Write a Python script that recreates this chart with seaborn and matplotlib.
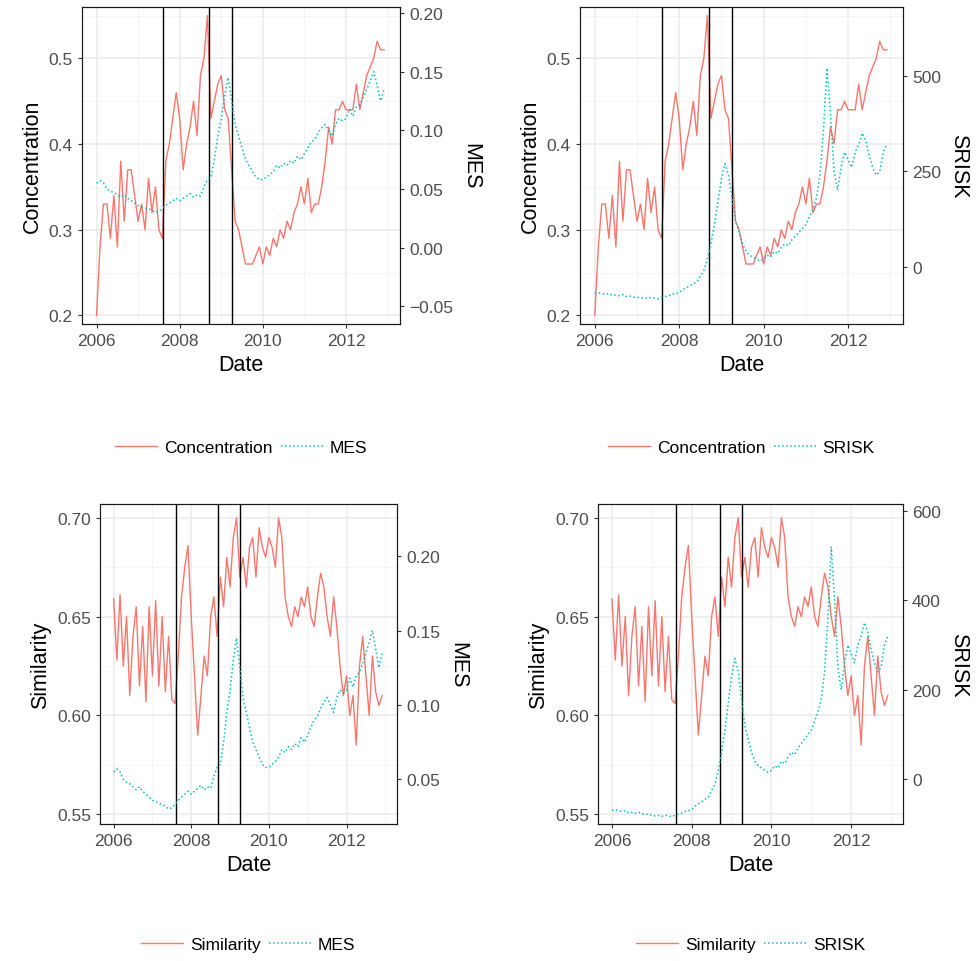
import numpy as np
import pandas as pd
import seaborn as sns
import matplotlib.pyplot as plt
from matplotlib.lines import Line2D
from matplotlib.ticker import MultipleLocator

plt.rcParams['font.family'] = ['Liberation Sans', 'DejaVu Sans']

dates = 2006 + np.arange(84) / 12

concentration = [0.20,0.28,0.33,0.33,0.29,0.34,0.28,0.38,0.31,0.37,0.37,0.34,
                 0.31,0.33,0.30,0.36,0.32,0.35,0.30,0.29,0.38,0.40,0.43,0.46,
                 0.43,0.37,0.40,0.42,0.45,0.41,0.48,0.50,0.55,0.43,0.45,0.47,
                 0.48,0.44,0.43,0.37,0.31,0.30,0.28,0.26,0.26,0.26,0.27,0.28,
                 0.26,0.28,0.27,0.29,0.28,0.30,0.29,0.31,0.30,0.32,0.33,0.35,
                 0.33,0.36,0.32,0.33,0.33,0.35,0.38,0.42,0.40,0.44,0.44,0.45,
                 0.44,0.44,0.44,0.47,0.44,0.46,0.48,0.49,0.50,0.52,0.51,0.51]
mes = [.055,.057,.055,.050,.048,.047,.045,.043,.045,.042,.040,.038,
       .036,.035,.034,.033,.032,.030,.031,.033,.036,.038,.040,.042,
       .040,.042,.044,.046,.043,.045,.044,.052,.058,.060,.075,.095,
       .110,.130,.145,.125,.105,.095,.085,.075,.070,.065,.060,.058,
       .058,.060,.062,.065,.070,.068,.072,.070,.074,.072,.078,.075,
       .080,.085,.090,.092,.098,.102,.105,.100,.095,.105,.110,.108,
       .110,.118,.112,.120,.122,.128,.135,.142,.150,.138,.125,.135]
srisk = [-70,-68,-70,-72,-70,-75,-74,-76,-73,-78,-77,-80,
         -80,-82,-81,-83,-80,-82,-84,-80,-78,-76,-72,-70,
         -68,-60,-55,-50,-45,-40,-25,-10,20,60,110,170,
         230,270,240,180,120,90,60,40,30,25,20,15,
         20,30,25,40,35,50,60,55,70,80,90,100,
         110,130,150,180,240,360,520,400,250,200,260,300,
         280,260,300,320,350,330,290,260,240,250,300,320]
similarity = [.659,.628,.661,.625,.650,.610,.640,.655,.615,.645,.607,.655,
              .620,.658,.615,.650,.612,.640,.608,.606,.630,.660,.675,.686,
              .650,.620,.590,.610,.630,.620,.650,.660,.640,.670,.655,.680,
              .665,.690,.700,.670,.680,.665,.685,.690,.670,.695,.685,.680,
              .690,.685,.675,.700,.690,.660,.650,.645,.655,.650,.660,.655,
              .665,.650,.645,.660,.672,.665,.650,.640,.660,.645,.625,.610,
              .620,.600,.610,.585,.625,.640,.620,.600,.630,.612,.605,.610]
events = [2007.6, 2008.7, 2009.25]

df = pd.DataFrame({'Date': dates, 'Concentration': concentration, 'MES': mes,
                   'SRISK': srisk, 'Similarity': similarity})

RED, CYAN = '#F8766D', '#00BFC4'
W, H = 979, 962
fig = plt.figure(figsize=(W / 100, H / 100), dpi=100)

panels = [
    ('Concentration', 'MES', (82, 8, 400, 325), (0.19, 0.56, 0.1), (-0.065, 0.205, 0.05), 448),
    ('Concentration', 'SRISK', (580, 8, 903, 325), (0.19, 0.56, 0.1), (-150, 680, 250), 448),
    ('Similarity', 'MES', (100, 505, 397, 825), (0.545, 0.707, 0.05), (0.02, 0.235, 0.05), 945),
    ('Similarity', 'SRISK', (598, 505, 903, 825), (0.545, 0.707, 0.05), (-100, 615, 200), 945),
]

for left, right, (x0, y0, x1, y1), (la, lb, ls), (ra, rb, rs), ly in panels:
    ax = fig.add_axes([x0 / W, 1 - y1 / H, (x1 - x0) / W, (y1 - y0) / H])
    ax2 = ax.twinx()
    sns.lineplot(data=df, x='Date', y=left, ax=ax, color=RED, lw=1)
    sns.lineplot(data=df, x='Date', y=right, ax=ax2, color=CYAN, lw=1.1, linestyle=':')
    for e in events:
        ax.axvline(e, color='black', lw=1)
    ax.set_xlim(2005.65, 2013.3)
    ax.set_ylim(la, lb)
    ax2.set_ylim(ra, rb)
    ax.xaxis.set_major_locator(MultipleLocator(2))
    ax.xaxis.set_minor_locator(MultipleLocator(1))
    ax.yaxis.set_major_locator(MultipleLocator(ls))
    ax.yaxis.set_minor_locator(MultipleLocator(ls / 2))
    ax2.yaxis.set_major_locator(MultipleLocator(rs))
    ax.grid(which='major', color='#EBEBEB', lw=1.1)
    ax.grid(which='minor', color='#F2F2F2', lw=0.6)
    ax.set_axisbelow(True)
    ax.tick_params(which='minor', length=0)
    for a in (ax, ax2):
        a.tick_params(which='major', labelsize=12.5, labelcolor='#4D4D4D', color='#333333', length=3)
        for s in a.spines.values():
            s.set_color('#1A1A1A')
    ax.set_xlabel('Date', fontsize=15.5)
    ax.set_ylabel(left, fontsize=15.5)
    ax2.set_ylabel(right, fontsize=15.5, rotation=270, labelpad=20)
    handles = [Line2D([], [], color=RED, lw=1), Line2D([], [], color=CYAN, lw=1.1, ls=':')]
    cx = (x0 + x1) / 2 / W
    fig.legend(handles, [left, right], loc='center', bbox_to_anchor=(cx, 1 - ly / H),
               ncol=2, frameon=False, fontsize=12.5, handlelength=2.4, columnspacing=0.5,
               handletextpad=0.4)

fig.savefig('out.png', dpi=100)
